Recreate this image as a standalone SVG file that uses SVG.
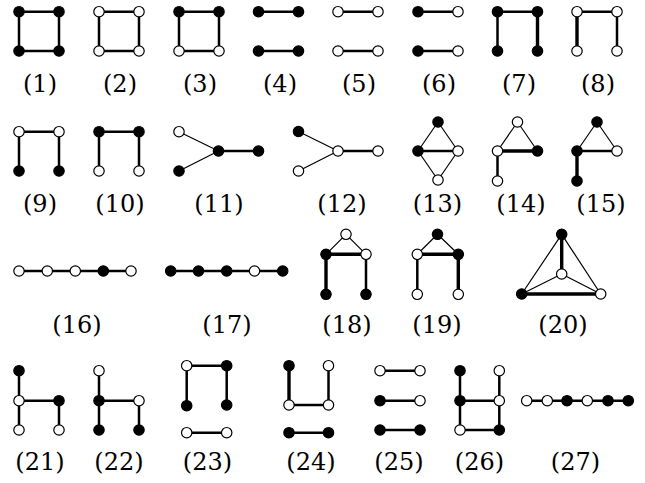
<svg xmlns="http://www.w3.org/2000/svg" width="645" height="483" viewBox="0 0 645 483">
<style>
.b{fill:#000;stroke:#000;stroke-width:1.2}
.w{fill:#fff;stroke:#000;stroke-width:1.2}
line{stroke:#000;stroke-linecap:butt}
.e{stroke-width:2.5}
.t{stroke-width:1.2}
.k{stroke-width:3.4}
text{font-family:"DejaVu Serif","Liberation Serif",serif;font-size:24px;text-anchor:middle;fill:#000}
</style>
<rect width="645" height="483" fill="#fff"/>
<g id="connectors">
<line class="e" x1="19" y1="11.7" x2="59" y2="11.7"/><line class="e" x1="19" y1="51" x2="59" y2="51"/><line class="e" x1="19" y1="11.7" x2="19" y2="51"/><line class="e" x1="59" y1="11.7" x2="59" y2="51"/>
<line class="e" x1="99" y1="11.7" x2="139" y2="11.7"/><line class="e" x1="99" y1="51" x2="139" y2="51"/><line class="e" x1="99" y1="11.7" x2="99" y2="51"/><line class="e" x1="139" y1="11.7" x2="139" y2="51"/>
<line class="e" x1="179" y1="11.7" x2="219" y2="11.7"/><line class="e" x1="179" y1="51" x2="219" y2="51"/><line class="e" x1="179" y1="11.7" x2="179" y2="51"/><line class="e" x1="219" y1="11.7" x2="219" y2="51"/>
<line class="e" x1="258.5" y1="11.7" x2="298.5" y2="11.7"/><line class="e" x1="258.5" y1="51" x2="298.5" y2="51"/>
<line class="e" x1="338" y1="11.7" x2="378" y2="11.7"/><line class="e" x1="338" y1="51" x2="378" y2="51"/>
<line class="e" x1="418" y1="11.7" x2="458" y2="11.7"/><line class="e" x1="418" y1="51" x2="458" y2="51"/>
<line class="e" x1="497.5" y1="11.7" x2="537.5" y2="11.7"/><line class="e" x1="497.5" y1="11.7" x2="497.5" y2="51"/><line class="k" x1="537.5" y1="11.7" x2="537.5" y2="51"/>
<line class="e" x1="577" y1="11.7" x2="617" y2="11.7"/><line class="k" x1="577" y1="11.7" x2="577" y2="51"/><line class="e" x1="617" y1="11.7" x2="617" y2="51"/>
<line class="e" x1="19" y1="131.7" x2="59" y2="131.7"/><line class="e" x1="19" y1="131.7" x2="19" y2="171"/><line class="e" x1="59" y1="131.7" x2="59" y2="171"/>
<line class="e" x1="99" y1="131.7" x2="139" y2="131.7"/><line class="e" x1="99" y1="131.7" x2="99" y2="171"/><line class="e" x1="139" y1="131.7" x2="139" y2="171"/>
<line class="t" x1="179" y1="131.7" x2="218.5" y2="151"/><line class="t" x1="179" y1="171" x2="218.5" y2="151"/><line class="e" x1="218.5" y1="151" x2="258.5" y2="151"/>
<line class="t" x1="298.5" y1="131.5" x2="338" y2="151"/><line class="t" x1="298.5" y1="171" x2="338" y2="151"/><line class="e" x1="338" y1="151" x2="378" y2="151"/>
<line class="t" x1="418" y1="151" x2="438" y2="122"/><line class="t" x1="438" y1="122" x2="458" y2="151"/><line class="t" x1="458" y1="151" x2="438" y2="180"/><line class="t" x1="438" y1="180" x2="418" y2="151"/><line class="e" x1="418" y1="151" x2="458" y2="151"/>
<line class="t" x1="517.5" y1="122" x2="497.5" y2="151"/><line class="t" x1="517.5" y1="122" x2="537.5" y2="151"/><line class="k" x1="497.5" y1="151" x2="537.5" y2="151"/><line class="e" x1="497.5" y1="151" x2="497.5" y2="181"/>
<line class="t" x1="597" y1="122" x2="577" y2="151"/><line class="t" x1="597" y1="122" x2="617" y2="151"/><line class="e" x1="577" y1="151" x2="617" y2="151"/><line class="k" x1="577" y1="151" x2="577" y2="181"/>
<line class="e" x1="19" y1="271" x2="131" y2="271"/>
<line class="e" x1="170.7" y1="271" x2="282.7" y2="271"/>
<line class="t" x1="346" y1="234.3" x2="326" y2="254.3"/><line class="t" x1="346" y1="234.3" x2="366" y2="254.3"/><line class="k" x1="326" y1="254.3" x2="366" y2="254.3"/><line class="k" x1="326" y1="254.3" x2="326" y2="294.3"/><line class="e" x1="366" y1="254.3" x2="366" y2="294.3"/>
<line class="t" x1="437.5" y1="234.3" x2="417.3" y2="254.3"/><line class="t" x1="437.5" y1="234.3" x2="458.3" y2="254.3"/><line class="k" x1="417.3" y1="254.3" x2="458.3" y2="254.3"/><line class="e" x1="417.3" y1="254.3" x2="417.3" y2="294.3"/><line class="k" x1="458.3" y1="254.3" x2="458.3" y2="294.3"/>
<line class="k" x1="561.7" y1="234.3" x2="561.7" y2="274"/><line class="t" x1="561.7" y1="234.3" x2="521.7" y2="294"/><line class="t" x1="561.7" y1="234.3" x2="600.7" y2="294"/><line class="t" x1="561.7" y1="274" x2="521.7" y2="294"/><line class="t" x1="561.7" y1="274" x2="600.7" y2="294"/><line class="k" x1="521.7" y1="294" x2="600.7" y2="294"/>
<line class="e" x1="19" y1="370.7" x2="19" y2="430"/><line class="e" x1="19" y1="400.7" x2="59" y2="400.7"/><line class="e" x1="59" y1="400.7" x2="59" y2="430"/>
<line class="e" x1="99" y1="370.7" x2="99" y2="430"/><line class="e" x1="99" y1="400.7" x2="139" y2="400.7"/><line class="e" x1="139" y1="400.7" x2="139" y2="430"/>
<line class="e" x1="186.7" y1="365.7" x2="226.7" y2="365.7"/><line class="e" x1="186.7" y1="365.7" x2="186.7" y2="405.7"/><line class="e" x1="226.7" y1="365.7" x2="226.7" y2="405"/><line class="e" x1="186.7" y1="432.7" x2="226.7" y2="432.7"/>
<line class="k" x1="289" y1="365.7" x2="289" y2="405"/><line class="e" x1="328.5" y1="365.7" x2="328.5" y2="405"/><line class="e" x1="289" y1="405" x2="328.5" y2="405"/><line class="e" x1="289" y1="432.7" x2="328.5" y2="432.7"/>
<line class="e" x1="380" y1="370.7" x2="420" y2="370.7"/><line class="e" x1="380" y1="400.7" x2="420" y2="400.7"/><line class="e" x1="380" y1="430" x2="420" y2="430"/>
<line class="e" x1="460" y1="370.7" x2="460" y2="430"/><line class="e" x1="499.3" y1="370.7" x2="499.3" y2="430"/><line class="e" x1="460" y1="400.7" x2="499.3" y2="400.7"/><line class="e" x1="460" y1="430" x2="499.3" y2="430"/>
<line class="e" x1="526.7" y1="400.7" x2="628.3" y2="400.7"/>
</g>
<g id="g1"><circle class="b" cx="19" cy="11.7" r="5.2"/><circle class="b" cx="59" cy="11.7" r="5.2"/><circle class="b" cx="19" cy="51" r="5.2"/><circle class="b" cx="59" cy="51" r="5.2"/><text x="40" y="92">(1)</text></g>
<g id="g2"><circle class="w" cx="99" cy="11.7" r="5.2"/><circle class="w" cx="139" cy="11.7" r="5.2"/><circle class="w" cx="99" cy="51" r="5.2"/><circle class="w" cx="139" cy="51" r="5.2"/><text x="120" y="92">(2)</text></g>
<g id="g3"><circle class="b" cx="179" cy="11.7" r="5.2"/><circle class="b" cx="219" cy="11.7" r="5.2"/><circle class="w" cx="179" cy="51" r="5.2"/><circle class="w" cx="219" cy="51" r="5.2"/><text x="200" y="92">(3)</text></g>
<g id="g4"><circle class="b" cx="258.5" cy="11.7" r="5.2"/><circle class="b" cx="298.5" cy="11.7" r="5.2"/><circle class="b" cx="258.5" cy="51" r="5.2"/><circle class="b" cx="298.5" cy="51" r="5.2"/><text x="280" y="92">(4)</text></g>
<g id="g5"><circle class="w" cx="338" cy="11.7" r="5.2"/><circle class="w" cx="378" cy="11.7" r="5.2"/><circle class="w" cx="338" cy="51" r="5.2"/><circle class="w" cx="378" cy="51" r="5.2"/><text x="359" y="92">(5)</text></g>
<g id="g6"><circle class="b" cx="418" cy="11.7" r="5.2"/><circle class="w" cx="458" cy="11.7" r="5.2"/><circle class="b" cx="418" cy="51" r="5.2"/><circle class="w" cx="458" cy="51" r="5.2"/><text x="439" y="92">(6)</text></g>
<g id="g7"><circle class="b" cx="497.5" cy="11.7" r="5.2"/><circle class="b" cx="537.5" cy="11.7" r="5.2"/><circle class="b" cx="497.5" cy="51" r="5.2"/><circle class="b" cx="537.5" cy="51" r="5.2"/><text x="519" y="92">(7)</text></g>
<g id="g8"><circle class="w" cx="577" cy="11.7" r="5.2"/><circle class="w" cx="617" cy="11.7" r="5.2"/><circle class="w" cx="577" cy="51" r="5.2"/><circle class="w" cx="617" cy="51" r="5.2"/><text x="598" y="92">(8)</text></g>
<g id="g9"><circle class="w" cx="19" cy="131.7" r="5.2"/><circle class="w" cx="59" cy="131.7" r="5.2"/><circle class="b" cx="19" cy="171" r="5.2"/><circle class="b" cx="59" cy="171" r="5.2"/><text x="40" y="212">(9)</text></g>
<g id="g10"><circle class="b" cx="99" cy="131.7" r="5.2"/><circle class="b" cx="139" cy="131.7" r="5.2"/><circle class="w" cx="99" cy="171" r="5.2"/><circle class="w" cx="139" cy="171" r="5.2"/><text x="120" y="212">(10)</text></g>
<g id="g11"><circle class="w" cx="179" cy="131.7" r="5.2"/><circle class="b" cx="179" cy="171" r="5.2"/><circle class="b" cx="218.5" cy="151" r="5.2"/><circle class="b" cx="258.5" cy="151" r="5.2"/><text x="219" y="212">(11)</text></g>
<g id="g12"><circle class="b" cx="298.5" cy="131.5" r="5.2"/><circle class="w" cx="298.5" cy="171" r="5.2"/><circle class="w" cx="338" cy="151" r="5.2"/><circle class="w" cx="378" cy="151" r="5.2"/><text x="342" y="212">(12)</text></g>
<g id="g13"><circle class="b" cx="418" cy="151" r="5.2"/><circle class="b" cx="438" cy="122" r="5.2"/><circle class="w" cx="458" cy="151" r="5.2"/><circle class="w" cx="438" cy="180" r="5.2"/><text x="437.5" y="212">(13)</text></g>
<g id="g14"><circle class="w" cx="517.5" cy="122" r="5.2"/><circle class="w" cx="497.5" cy="151" r="5.2"/><circle class="b" cx="537.5" cy="151" r="5.2"/><circle class="w" cx="497.5" cy="181" r="5.2"/><text x="521" y="212">(14)</text></g>
<g id="g15"><circle class="b" cx="597" cy="122" r="5.2"/><circle class="b" cx="577" cy="151" r="5.2"/><circle class="w" cx="617" cy="151" r="5.2"/><circle class="b" cx="577" cy="181" r="5.2"/><text x="601" y="212">(15)</text></g>
<g id="g16"><circle class="w" cx="19" cy="271" r="5.2"/><circle class="w" cx="47.3" cy="271" r="5.2"/><circle class="w" cx="75.3" cy="271" r="5.2"/><circle class="b" cx="103.3" cy="271" r="5.2"/><circle class="w" cx="131" cy="271" r="5.2"/><text x="77" y="333">(16)</text></g>
<g id="g17"><circle class="b" cx="170.7" cy="271" r="5.2"/><circle class="b" cx="198.5" cy="271" r="5.2"/><circle class="b" cx="226.7" cy="271" r="5.2"/><circle class="w" cx="254.5" cy="271" r="5.2"/><circle class="b" cx="282.7" cy="271" r="5.2"/><text x="227" y="333">(17)</text></g>
<g id="g18"><circle class="w" cx="346" cy="234.3" r="5.2"/><circle class="b" cx="326" cy="254.3" r="5.2"/><circle class="w" cx="366" cy="254.3" r="5.2"/><circle class="b" cx="326" cy="294.3" r="5.2"/><circle class="b" cx="366" cy="294.3" r="5.2"/><text x="347" y="333">(18)</text></g>
<g id="g19"><circle class="b" cx="437.5" cy="234.3" r="5.2"/><circle class="w" cx="417.3" cy="254.3" r="5.2"/><circle class="b" cx="458.3" cy="254.3" r="5.2"/><circle class="w" cx="417.3" cy="294.3" r="5.2"/><circle class="w" cx="458.3" cy="294.3" r="5.2"/><text x="437" y="333">(19)</text></g>
<g id="g20"><circle class="b" cx="561.7" cy="234.3" r="5.2"/><circle class="w" cx="561.7" cy="274" r="5.2"/><circle class="b" cx="521.7" cy="294" r="5.2"/><circle class="w" cx="600.7" cy="294" r="5.2"/><text x="563" y="333">(20)</text></g>
<g id="g21"><circle class="b" cx="19" cy="370.7" r="5.2"/><circle class="w" cx="19" cy="400.7" r="5.2"/><circle class="w" cx="19" cy="430" r="5.2"/><circle class="b" cx="59" cy="400.7" r="5.2"/><circle class="w" cx="59" cy="430" r="5.2"/><text x="40" y="470">(21)</text></g>
<g id="g22"><circle class="w" cx="99" cy="370.7" r="5.2"/><circle class="b" cx="99" cy="400.7" r="5.2"/><circle class="b" cx="99" cy="430" r="5.2"/><circle class="w" cx="139" cy="400.7" r="5.2"/><circle class="b" cx="139" cy="430" r="5.2"/><text x="119" y="470">(22)</text></g>
<g id="g23"><circle class="w" cx="186.7" cy="365.7" r="5.2"/><circle class="b" cx="226.7" cy="365.7" r="5.2"/><circle class="b" cx="186.7" cy="405.7" r="5.2"/><circle class="b" cx="226.7" cy="405" r="5.2"/><circle class="w" cx="186.7" cy="432.7" r="5.2"/><circle class="w" cx="226.7" cy="432.7" r="5.2"/><text x="207.5" y="470">(23)</text></g>
<g id="g24"><circle class="b" cx="289" cy="365.7" r="5.2"/><circle class="w" cx="328.5" cy="365.7" r="5.2"/><circle class="w" cx="289" cy="405" r="5.2"/><circle class="w" cx="328.5" cy="405" r="5.2"/><circle class="b" cx="289" cy="432.7" r="5.2"/><circle class="b" cx="328.5" cy="432.7" r="5.2"/><text x="311" y="470">(24)</text></g>
<g id="g25"><circle class="w" cx="380" cy="370.7" r="5.2"/><circle class="w" cx="420" cy="370.7" r="5.2"/><circle class="b" cx="380" cy="400.7" r="5.2"/><circle class="w" cx="420" cy="400.7" r="5.2"/><circle class="b" cx="380" cy="430" r="5.2"/><circle class="b" cx="420" cy="430" r="5.2"/><text x="399" y="470">(25)</text></g>
<g id="g26"><circle class="b" cx="460" cy="370.7" r="5.2"/><circle class="w" cx="499.3" cy="370.7" r="5.2"/><circle class="b" cx="460" cy="400.7" r="5.2"/><circle class="w" cx="499.3" cy="400.7" r="5.2"/><circle class="w" cx="460" cy="430" r="5.2"/><circle class="b" cx="499.3" cy="430" r="5.2"/><text x="479.5" y="470">(26)</text></g>
<g id="g27"><circle class="w" cx="526.7" cy="400.7" r="5.2"/><circle class="w" cx="547.3" cy="400.7" r="5.2"/><circle class="b" cx="567" cy="400.7" r="5.2"/><circle class="w" cx="587.3" cy="400.7" r="5.2"/><circle class="b" cx="608" cy="400.7" r="5.2"/><circle class="b" cx="628.3" cy="400.7" r="5.2"/><text x="575.5" y="470">(27)</text></g>
</svg>
